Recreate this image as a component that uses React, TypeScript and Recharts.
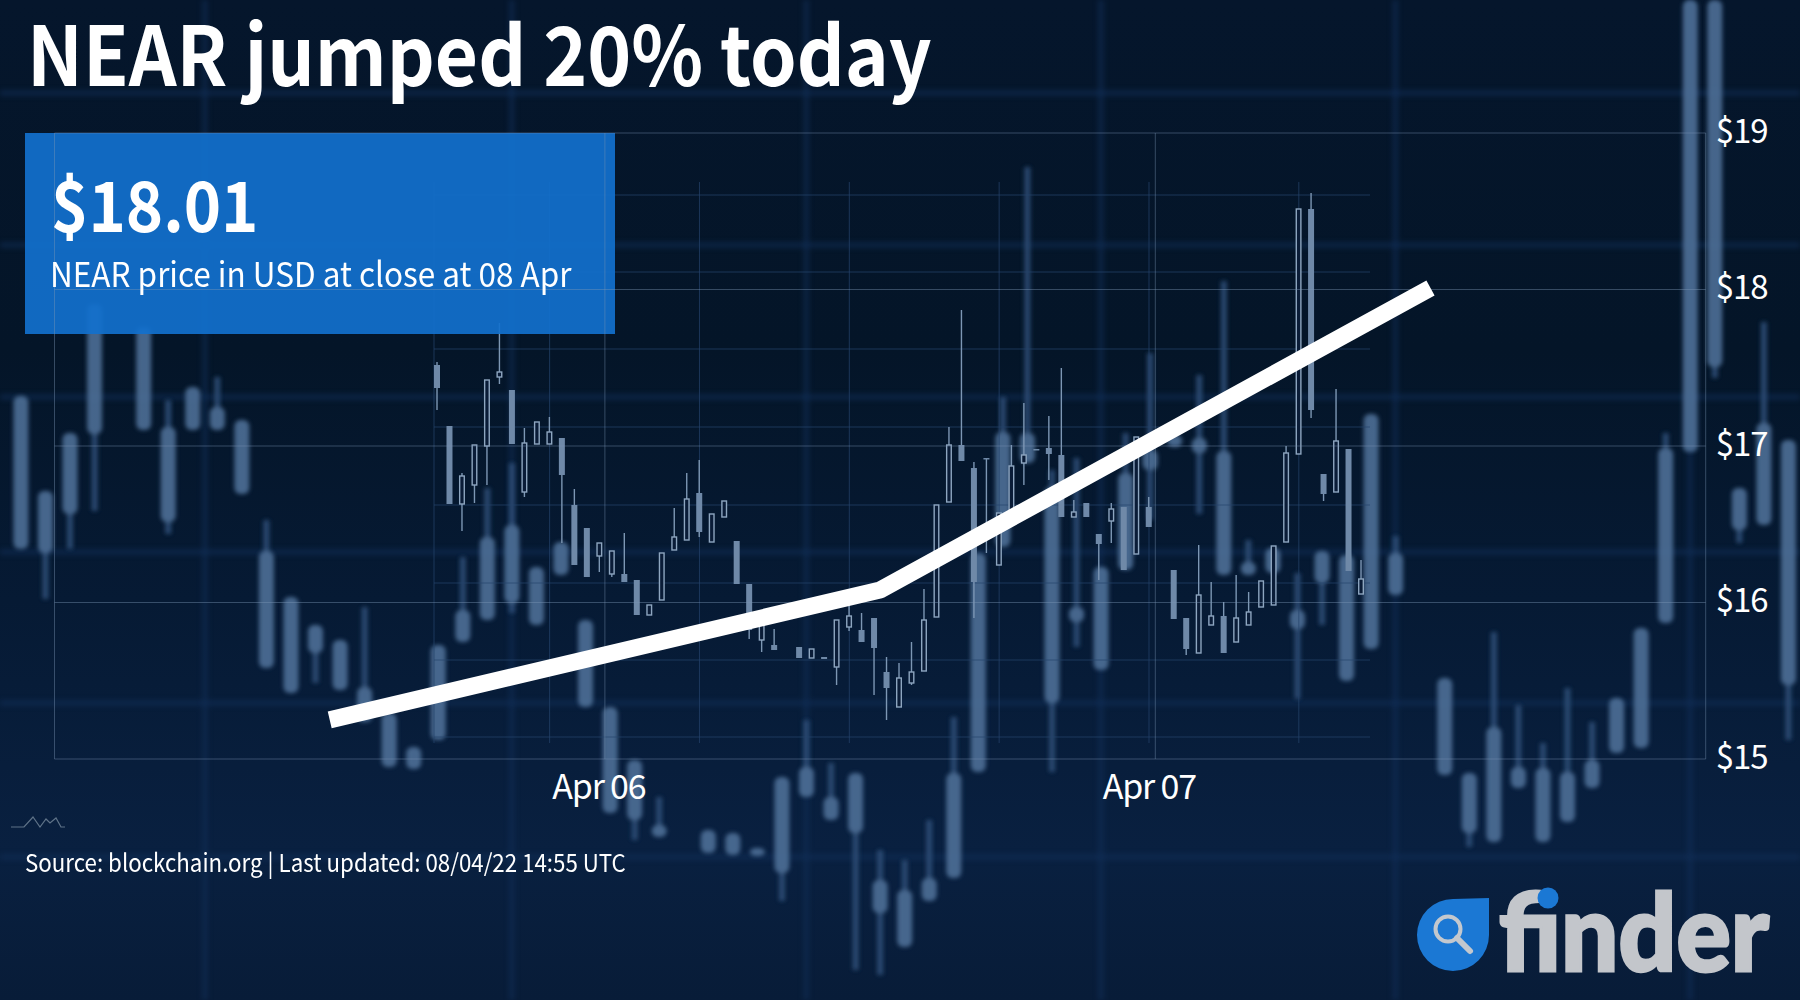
/**
 * NearPriceChart - NEAR/USD daily close over a dimmed candlestick backdrop
 *
 * Three stacked charts: blurred candles, the small sharp candle chart, and
 * the white close line with the real axes.
 */

import React from 'react';
import { ComposedChart, Bar, Line, XAxis, YAxis, CartesianGrid } from 'recharts';

const FONT = '"Noto Sans CJK SC", "Noto Sans", sans-serif';

// White close line. Day 0 is Apr 06 00:00
const closeDays = [-0.5, 0.5, 1.5];
const closePrices = [15.25, 16.08, 18.01];
const priceTicks = [15, 16, 17, 18, 19];
const dayTicks = [0, 1];
const dayLabels = ['Apr 06', 'Apr 07'];

// Blurred backdrop candles on a 0-100 level scale
const softHigh = [60.4, 50.9, 56.7, 69.6, null, 67.3, 60, 61.3, 62.3, 58, 48, 40.3, 37.5, 36, 39.3, 28.7, 25.3, 35.5, 44.3, 51.2, 53.7, 43.3, 45.8, 38, 29.3, 24, 20.3, null, 17, 16.7, 15.2, 22.3, 28, 23.7, 22.7, 15, 14, 18, 28.3, 44.7, 60.3, 83.3, 53, 54.2, 43.3, 56.7, 64.7, 56.5, 62.5, 71.9, 46, 45.2, 42.7, 44.9, 44.5, 58.6, 46.4, null, 32.2, 22.7, 36.8, 29.5, 25.7, 31.2, 27.8, 30.2, 37.2, 56.7, 100, 100, 51.2, 67.8, 56];
const softOpen = [60.4, 50.9, 56.7, 69.6, null, 67.3, 57.3, 61.3, 59.3, 58, 44.9, 40.3, 37.5, 36, 31.3, 28.7, 25.3, 35.5, 39, 46.3, 47.5, 43.3, 45.8, 38, 29.3, 24, 17.5, null, 17, 16.7, 15.2, 22.3, 23.3, 20.3, 22.7, 12, 11, 12.2, 22.7, 44.7, 56.8, 56.7, 51.3, 39.3, 43.3, 52.7, 55, 56.5, 56.2, 54.9, 43.8, 45.2, 39, 44.9, 44.5, 58.6, 44.7, null, 32.2, 22.7, 27.3, 23.3, 23.2, 22.8, 24, 30.2, 37.2, 55.2, 100, 100, 51.2, 57.7, 56];
const softClose = [45.1, 44.7, 48.6, 56.6, null, 57, 47.8, 57, 57, 50.6, 33.2, 30.7, 34.7, 31, 27.8, 23.3, 23.1, 26, 35.8, 38, 39.7, 37.5, 42.5, 29.3, 18.7, 18, 16.3, null, 14.7, 14.5, 14.4, 12.7, 20.3, 18, 16.7, 8.7, 5.3, 9.9, 12.2, 22.8, 45.3, 53.7, 29.7, 37.8, 33, 43, 53, 55.3, 54.7, 42.5, 42.5, 42.7, 37.1, 41.7, 31.9, 35.1, 40.5, null, 22.5, 16.7, 15.8, 21.2, 15.8, 17.8, 21.2, 24.7, 25.2, 37.7, 54.8, 63.3, 47, 47.5, 31.5];
const softLow = [45.1, 40.1, 45.1, 48.9, null, 57, 46.6, 57, 57, 50.6, 33.2, 30.7, 31.7, 31, 27.8, 23.3, 23.1, 26, 35.8, 38, 38.7, 37.5, 42.5, 29.3, 18.7, 16, 16.3, null, 14.7, 14.5, 14.4, 9.9, 20.3, 18, 3, 2.5, 5.3, 9.9, 12.2, 22.8, 45.3, 53.7, 22.8, 35.3, 33, 43, 48, 55.3, 48.6, 42.5, 42.5, 42.7, 30.1, 37.5, 31.9, 35.1, 40.5, null, 22.5, 15.3, 15.8, 21.2, 15.8, 17.8, 21.2, 24.7, 25.2, 37.7, 54.8, 62.2, 45.7, 47.5, 26];
const softGridSlots = [7.5, 20, 32, 44, 56, 68];
const softGridLevels = [90.7, 75.5, 60.3, 44.8, 29.7, 14.3];

// Sharp candles in the inner chart, same level scale. Close above open is hollow
const hardOpen = [63.5, 57.4, 49.6, 51.5, 55.4, 62.3, 61, 50.8, 55.6, 55.6, 56.2, 49.5, 47.2, 44.4, 42.6, 42.6, 42, 38.5, 40, 45, 46, 50.7, 45.8, 48.3, 45.9, 41.6, 36, 35.5, null, 35.3, 34.2, 34.3, 33.3, 37.3, 37, 38.2, 32.8, 29.3, 31.7, 32.9, 38.3, 49.8, 55.5, 53.2, 54.2, 43.5, 49, 53.7, 55.1, 55.2, 54.5, 48.3, 49.7, 46.6, 47.9, 49.3, 44.6, 49.3, null, 43, 38.2, 34.7, 37.5, 38.4, 35.8, 37.5, 39.3, 39.5, 45.8, 54.6, 79.1, 52.6, 50.8, 55.1, 40.6];
const hardClose = [61.2, 49.6, 52.4, 55.5, 62, 62.8, 55.6, 55.7, 57.8, 56.8, 52.5, 43.5, 42.3, 45.7, 44.9, 41.8, 38.5, 39.5, 44.7, 46.3, 50.1, 46.8, 48.6, 49.9, 41.6, 37, 38, 35, null, 34.2, 35.1, 34.1, 38, 38.4, 35.8, 35.2, 31.2, 32.2, 32.8, 38, 49.5, 55.5, 53.9, 41.8, 54.1, 48.7, 53.4, 54.5, 55, 54.6, 48.3, 48.8, 48.3, 45.6, 49.1, 43, 56.3, 47.3, null, 38.1, 35.1, 40.5, 38.4, 34.7, 38.2, 38.8, 41.9, 45.4, 54.7, 79.1, 59, 50.6, 55.9, 42.9, 42.1];
const hardHigh = [63.8, 57.4, 52.7, 55.5, 62, 67.7, 61, 57.2, 57.8, 58.3, 56.2, 51.1, 47.2, 45.7, 44.9, 46.7, 42, 39.5, 44.7, 49.2, 52.7, 54, 48.6, 49.9, 45.9, 41.6, 38, 37.1, null, 35.3, 35.1, 34.3, 38, 39.5, 38.7, 38.2, 34.3, 33.7, 35.8, 41.1, 49.5, 57.3, 69, 53.8, 54.2, 48.7, 55.5, 59.7, 55.1, 58.4, 63.2, 50, 49.7, 46.6, 49.7, 49.3, 56.3, 50.3, null, 43, 38.2, 45.5, 41.8, 39.8, 42.5, 40.8, 41.9, 45.4, 55.4, 79.1, 80.7, 52.6, 61.1, 55.1, 44];
const hardLow = [59, 49.6, 46.9, 49.7, 51.5, 61.6, 55.6, 50.3, 55.6, 55.6, 45.7, 43.5, 42.3, 42.8, 42.3, 41.8, 38.5, 38.5, 40, 45, 46, 46.3, 45.8, 48.3, 41.6, 36.1, 34.8, 35, null, 34.2, 34.2, 34.1, 31.5, 36.9, 35.8, 30.5, 28, 29.3, 31.5, 32.9, 38.3, 49.8, 53.9, 38.2, 44.7, 43.5, 49, 51.5, 55, 52, 48.3, 48.3, 48.3, 42, 45.7, 43, 44.6, 47.3, null, 38.1, 34.5, 34.7, 37.5, 34.7, 35.8, 37.5, 39.3, 39.5, 45.8, 54.6, 58.2, 49.9, 50.8, 42.9, 40.6];
const hardVolume = [0.4, 0.8, 1.7, 0.3, 1.5, 0.2, 0.3, 2.7, 0.3, 1.6, 2, 1.7, 0.3, 0.3, 0.3, 1.5, 2.7, 1.8, 1.4, 0.2, 0.2, 0.3, 0.2, 0.2, 0.2, 0.3, 0.8, 0.3, 0, 0.2, 0.2, 0.2, 0.5, 0.2, 0.2, 0.8, 0.3, 0.2, 0.2, 0.2, 0.2, 0.2, 0.3, 0.2, 0.2, 0.2, 0.2, 0.2, 0.2, 0.2, 0.2, 0.2, 0.2, 0.2, 0.2, 0.4, 2.4, 0.3, 0.2, 1.3, 1.9, 1.3, 1.5, 2.5, 0.2, 0.3, 0.2, 1.2, 2.5, 3.3, 3.3, 1.5, 0.8, 3.6, 0.2];
const volumeBase = 26.3;
const hardGridSlots = [-0.26, 9, 21, 33, 45, 57, 69];
const hardGridLevels = [80.5, 72.8, 65.1, 57.3, 49.5, 41.7, 34, 26.3];

const closeRows = closeDays.map((day, i) => ({ day, price: closePrices[i] }));

const toCandles = (high: any[], open: any[], close: any[], low: any[]) =>
  high
    .map((h, slot) => ({ slot, high: h, open: open[slot], close: close[slot], low: low[slot] }))
    .filter((row) => row.high !== null);

const softRows = toCandles(softHigh, softOpen, softClose, softLow);
const hardRows = toCandles(hardHigh, hardOpen, hardClose, hardLow);
const volumeRows = hardVolume.map((volume, slot) => ({ slot, volume }));

// Body position inside the high-low bar that Recharts hands to the shape
const bodyOf = ({ y, height, payload }: any) => {
  const unit = height / (payload.high - payload.low);
  const top = y + (payload.high - Math.max(payload.open, payload.close)) * unit;
  return { top, size: Math.max(Math.abs(payload.open - payload.close) * unit, 1.5) };
};

const SoftCandle = (props: any) => {
  const { x, y, width, height } = props;
  const { top, size } = bodyOf(props);
  const mid = x + width / 2;
  return (
    <g filter="url(#softBlur)" opacity={0.88}>
      <rect x={mid - 3} y={y} width={6} height={height} fill="#2f4f78" />
      <rect x={x} y={top} width={width} height={size} rx={6} fill="#4f7199" />
    </g>
  );
};

const HardCandle = (props: any) => {
  const { x, y, width, height, payload } = props;
  const { top, size } = bodyOf(props);
  const mid = x + width / 2;
  const hollow = payload.close > payload.open;
  return (
    <g>
      <line x1={mid} x2={mid} y1={y} y2={y + height} stroke="#7d97b4" strokeWidth={1.4} />
      <rect
        x={hollow ? x + 0.7 : x}
        y={top}
        width={hollow ? width - 1.4 : width}
        height={size}
        fill={hollow ? '#0a1c37' : '#6f89a8'}
        stroke={hollow ? '#8ea6c0' : 'none'}
        strokeWidth={1.4}
      />
    </g>
  );
};

const layer: React.CSSProperties = { position: 'absolute', left: 0, top: 0 };

// Reference face is narrower than the installed one, so the copy gets squeezed
const copy = (left: number, top: number, fontSize: number, squeeze: number, bold = false): React.CSSProperties => ({
  position: 'absolute',
  left,
  top,
  fontSize,
  fontWeight: bold ? 700 : 400,
  lineHeight: `${Math.round(fontSize * 1.2)}px`,
  color: '#fff',
  whiteSpace: 'nowrap',
  transform: `scaleX(${squeeze})`,
  transformOrigin: 'left top',
});

export default function App() {
  return (
    <div
      style={{
        ...layer,
        width: 1800,
        height: 1000,
        overflow: 'hidden',
        fontFamily: FONT,
        background:
          'linear-gradient(180deg, #05162c 0%, #041528 35%, #061a34 60%, #092040 85%, #081c38 100%)',
      }}
    >
      <style>{`.soft-grid .recharts-cartesian-grid { filter: blur(2.5px); }`}</style>

      {/* Blurred backdrop */}
      <div style={layer} className="soft-grid">
        <ComposedChart width={1800} height={1000} data={softRows} margin={{ top: 0, right: 0, bottom: 0, left: 0 }}>
          <defs>
            <filter id="softBlur" filterUnits="userSpaceOnUse" x={0} y={0} width={1800} height={1000}>
              <feGaussianBlur stdDeviation={2.2} />
            </filter>
          </defs>
          <XAxis hide dataKey="slot" type="number" domain={[-0.843, 72.48]} />
          <YAxis hide domain={[0, 100]} />
          <CartesianGrid
            stroke="#12305a"
            strokeWidth={6}
            strokeOpacity={0.5}
            verticalValues={softGridSlots}
            horizontalValues={softGridLevels}
          />
          <Bar dataKey={(row: any) => [row.low, row.high]} barSize={15} shape={SoftCandle} isAnimationActive={false} />
        </ComposedChart>
      </div>

      {/* Sharp inner candle chart */}
      <div style={layer}>
        <ComposedChart width={1800} height={1000} data={hardRows} margin={{ top: 182, right: 430, bottom: 257, left: 434 }}>
          <XAxis hide dataKey="slot" type="number" domain={[-0.26, 74.7]} />
          <XAxis hide xAxisId="volume" dataKey="slot" type="number" domain={[-0.26, 74.7]} />
          <YAxis hide domain={[25.7, 81.8]} />
          <CartesianGrid
            stroke="#27456d"
            strokeWidth={1}
            strokeOpacity={0.7}
            verticalValues={hardGridSlots}
            horizontalValues={hardGridLevels}
          />
          <Bar
            xAxisId="volume"
            data={volumeRows}
            dataKey={(row: any) => [volumeBase, volumeBase + row.volume]}
            barSize={8}
            fill="#17315a"
            isAnimationActive={false}
          />
          <Bar dataKey={(row: any) => [row.low, row.high]} barSize={6} shape={HardCandle} isAnimationActive={false} />
        </ComposedChart>
      </div>

      {/* Value box sits under the line */}
      <div
        style={{
          position: 'absolute',
          left: 25,
          top: 133,
          width: 590,
          height: 201,
          background: 'rgba(18, 112, 204, 0.93)',
        }}
      />

      {/* Close line with the real axes */}
      <div style={layer}>
        <ComposedChart width={1800} height={1000} data={closeRows} margin={{ top: 133, right: 0, bottom: 0, left: 54.5 }}>
          <CartesianGrid
            stroke="#7b96b4"
            strokeOpacity={0.42}
            strokeWidth={1}
            verticalValues={[-1, 0, 1, 2]}
            horizontalValues={priceTicks}
          />
          <XAxis
            dataKey="day"
            type="number"
            domain={[-1, 2]}
            ticks={dayTicks}
            height={241}
            axisLine={false}
            tickLine={false}
            tickMargin={10}
            tick={{ fill: '#ffffff', fontSize: 34, fontFamily: FONT, dx: -6, letterSpacing: -1.2 }}
            tickFormatter={(day: number) => dayLabels[dayTicks.indexOf(day)]}
          />
          <YAxis
            orientation="right"
            domain={[15, 19]}
            ticks={priceTicks}
            width={94.3}
            axisLine={false}
            tickLine={false}
            tickMargin={4}
            tick={{ fill: '#ffffff', fontSize: 33, fontFamily: FONT, textAnchor: 'start', dy: -2, letterSpacing: -1 }}
            tickFormatter={(price: number) => `$${price}`}
          />
          <Line
            dataKey="price"
            type="linear"
            stroke="#ffffff"
            strokeWidth={17}
            strokeLinejoin="bevel"
            strokeLinecap="butt"
            dot={false}
            activeDot={false}
            isAnimationActive={false}
          />
        </ComposedChart>
      </div>

      {/* Headline and value box text */}
      <div style={copy(27, 2, 82, 0.91, true)}>NEAR jumped 20% today</div>
      <div style={copy(51, 160, 70, 0.905, true)}>$18.01</div>
      <div style={copy(50, 252, 34, 0.927)}>NEAR price in USD at close at 08 Apr</div>
      <div style={copy(25, 847, 24.5, 0.91)}>Source: blockchain.org | Last updated: 08/04/22 14:55 UTC</div>

      {/* Source mark and finder logo */}
      <svg width={1800} height={1000} style={{ ...layer, pointerEvents: 'none' }}>
        <path
          d="M11 827 H24 L33 817 L40 827 L46 819 L50 823 L56 818 L61 827 H65"
          fill="none"
          stroke="#5f7388"
          strokeWidth={1.2}
        />
        <path d="M1489 898 V935 A36 36 0 1 1 1453 899 Z" fill="#1b78d4" />
        <circle cx={1448} cy={929} r={12.5} fill="none" stroke="#c3c8ce" strokeWidth={4} />
        <path d="M1457 938 L1470 951" stroke="#c3c8ce" strokeWidth={6} strokeLinecap="round" />
        <text
          x={1499}
          y={971}
          fontFamily="Lato, Roboto, sans-serif"
          fontWeight={900}
          fontSize={106}
          fill="#c3c6cb"
          stroke="#c3c6cb"
          strokeWidth={3}
          textLength={270}
          lengthAdjust="spacingAndGlyphs"
        >
          finder
        </text>
        <circle cx={1548} cy={898} r={10.5} fill="#1b78d4" />
      </svg>
    </div>
  );
}
